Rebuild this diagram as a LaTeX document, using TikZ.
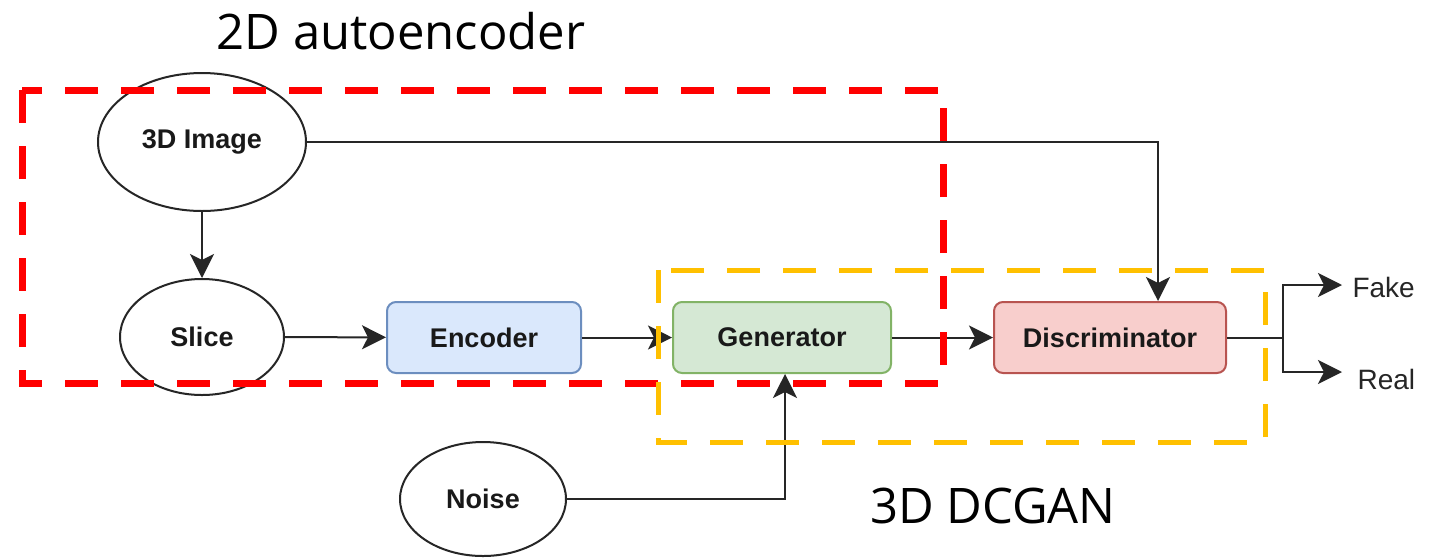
\documentclass[tikz,border=0pt]{standalone}
\usepackage{fontspec}
\setmainfont{Liberation Sans}
\newfontfamily\labelfont{Open Sans}
\usetikzlibrary{arrows.meta,shapes.geometric}
\begin{document}
\begin{tikzpicture}[x=1pt,y=-1pt,
  ell/.style={draw=black!85,line width=2pt,ellipse,inner sep=0pt,font=\fontsize{27}{30}\selectfont\bfseries,text=black!90},
  blk/.style={rounded corners=9pt,line width=2pt,minimum height=71pt,font=\fontsize{27}{30}\selectfont\bfseries,text=black!90},
  conn/.style={draw=black!85,line width=2pt,-{Stealth[length=24pt,width=24pt,inset=6pt]}},
  plain/.style={draw=black!85,line width=2pt},
  grp/.style={line width=7pt,dash pattern=on 33pt off 23pt},
  big/.style={font=\labelfont\fontsize{49}{54}\selectfont,text=black},
  outlbl/.style={font=\fontsize{28}{32}\selectfont,text=black!85,anchor=west}]
\useasboundingbox (0,0) rectangle (1434,558);
\fill[white] (0,0) rectangle (1434,558);
% nodes
\node[ell,minimum width=208pt,minimum height=138pt] (img) at (202,142) {3D Image};
\node[ell,minimum width=164pt,minimum height=116pt] (slice) at (202,337) {Slice};
\node[ell,minimum width=166pt,minimum height=114pt] (noise) at (483,499) {Noise};
\node[blk,draw={rgb,255:red,108;green,142;blue,191},fill={rgb,255:red,218;green,232;blue,252},minimum width=194pt] (enc) at (484,337.5) {Encoder};
\node[blk,draw={rgb,255:red,130;green,179;blue,102},fill={rgb,255:red,213;green,232;blue,212},minimum width=218pt] (gen) at (782,337.5) {Generator};
\node[blk,draw={rgb,255:red,184;green,84;blue,80},fill={rgb,255:red,248;green,206;blue,204},minimum width=232pt] (dis) at (1110,337.5) {Discriminator};
\node[outlbl] (fake) at (1349,287) {Fake};
\node[outlbl] (real) at (1354,379) {Real};
\coordinate (split) at (1283,337.5);
\coordinate (fakeend) at (1342,285);
\coordinate (realend) at (1342,372);
% connectors
\draw[conn] (img) -- (slice);
\draw[conn] (slice) -- (enc);
\draw[conn] (enc) -- (gen);
\draw[conn] (gen) -- (dis);
\draw[conn] (img.east) -| ([xshift=48pt]dis.north);
\draw[conn] (noise.east) -| ([xshift=3pt]gen.south);
\draw[plain] (dis.east) -- (split);
\draw[conn] (split) |- (fakeend);
\draw[conn] (split) |- (realend);
% groups
\draw[grp,draw={rgb,255:red,255;green,0;blue,0}] (22,90) rectangle (943,383);
\draw[grp,line width=5pt,draw={rgb,255:red,255;green,192;blue,0}] (658,270) rectangle (1265,442);
\node[big] (t2d) at (401,31) {2D autoencoder};
\node[big] (t3d) at (993,506) {3D DCGAN};
\end{tikzpicture}
\end{document}
